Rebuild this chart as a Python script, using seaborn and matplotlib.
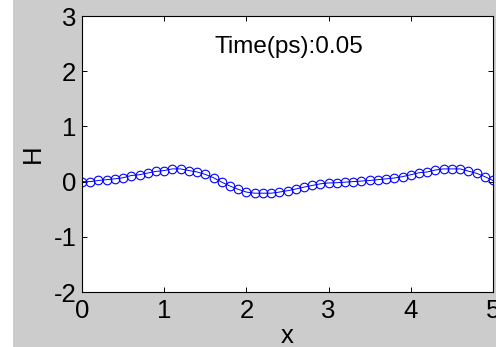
import numpy as np
import pandas as pd
import matplotlib
matplotlib.use("Agg")
import matplotlib.pyplot as plt
import seaborn as sns

x_vals = [round(0.1 * i, 1) for i in range(51)]
h_vals = [0.00, 0.00, 0.02, 0.035, 0.05, 0.07, 0.11, 0.125, 0.155, 0.185,
          0.20, 0.23, 0.23, 0.20, 0.175, 0.13, 0.07, -0.01, -0.08, -0.14,
          -0.19, -0.21, -0.21, -0.21, -0.19, -0.165, -0.135, -0.10, -0.07, -0.04,
          -0.025, -0.02, -0.01, 0.00, 0.01, 0.02, 0.035, 0.05, 0.065, 0.09,
          0.125, 0.16, 0.175, 0.21, 0.23, 0.23, 0.23, 0.19, 0.15, 0.09,
          0.02]
x_ticks = [0, 1, 2, 3, 4, 5]
y_ticks = [-2, -1, 0, 1, 2, 3]
annotation = "Time(ps):0.05"

df = pd.DataFrame({"x": x_vals, "H": h_vals})

sns.set_theme(style="white")
plt.rcParams['font.family'] = ['Liberation Sans', 'DejaVu Sans']

fig = plt.figure(figsize=(4.96, 3.47), dpi=100, facecolor="#cccccc")
# white strip at the left edge
fig.patches.append(plt.Rectangle((0, 0), 13 / 496, 1, transform=fig.transFigure,
                                 facecolor="white", edgecolor="none", zorder=-1))
ax = fig.add_axes([82 / 496, 1 - 292 / 347, (493 - 82) / 496, (292 - 16) / 347])
ax.set_facecolor("white")

sns.lineplot(data=df, x="x", y="H", ax=ax, color="#0000ff", linewidth=0.7,
             marker="o", markersize=6.2, markerfacecolor="none",
             markeredgecolor="#0000ff", markeredgewidth=0.8)

ax.set_xlim(0, 5)
ax.set_ylim(-2, 3)
ax.set_xticks(x_ticks)
ax.set_yticks(y_ticks)
ax.set_xticklabels([str(t) for t in x_ticks])
ax.set_yticklabels([str(t) for t in y_ticks])
ax.tick_params(direction="in", length=3.5, width=0.7, labelsize=18.5, colors="black",
               top=True, right=True, bottom=True, left=True)
ax.tick_params(axis="x", pad=5)
ax.tick_params(axis="y", pad=4)
for s in ax.spines.values():
    s.set_color("black")
    s.set_linewidth(0.8)

ax.set_xlabel("x", fontsize=18.5, color="black", labelpad=1)
ax.set_ylabel("H", fontsize=18.5, color="black", labelpad=6)

ax.text(2.52, 2.44, annotation, fontsize=17.5, ha="center", va="center", color="black")

fig.savefig("out.png", dpi=100, facecolor=fig.get_facecolor())
